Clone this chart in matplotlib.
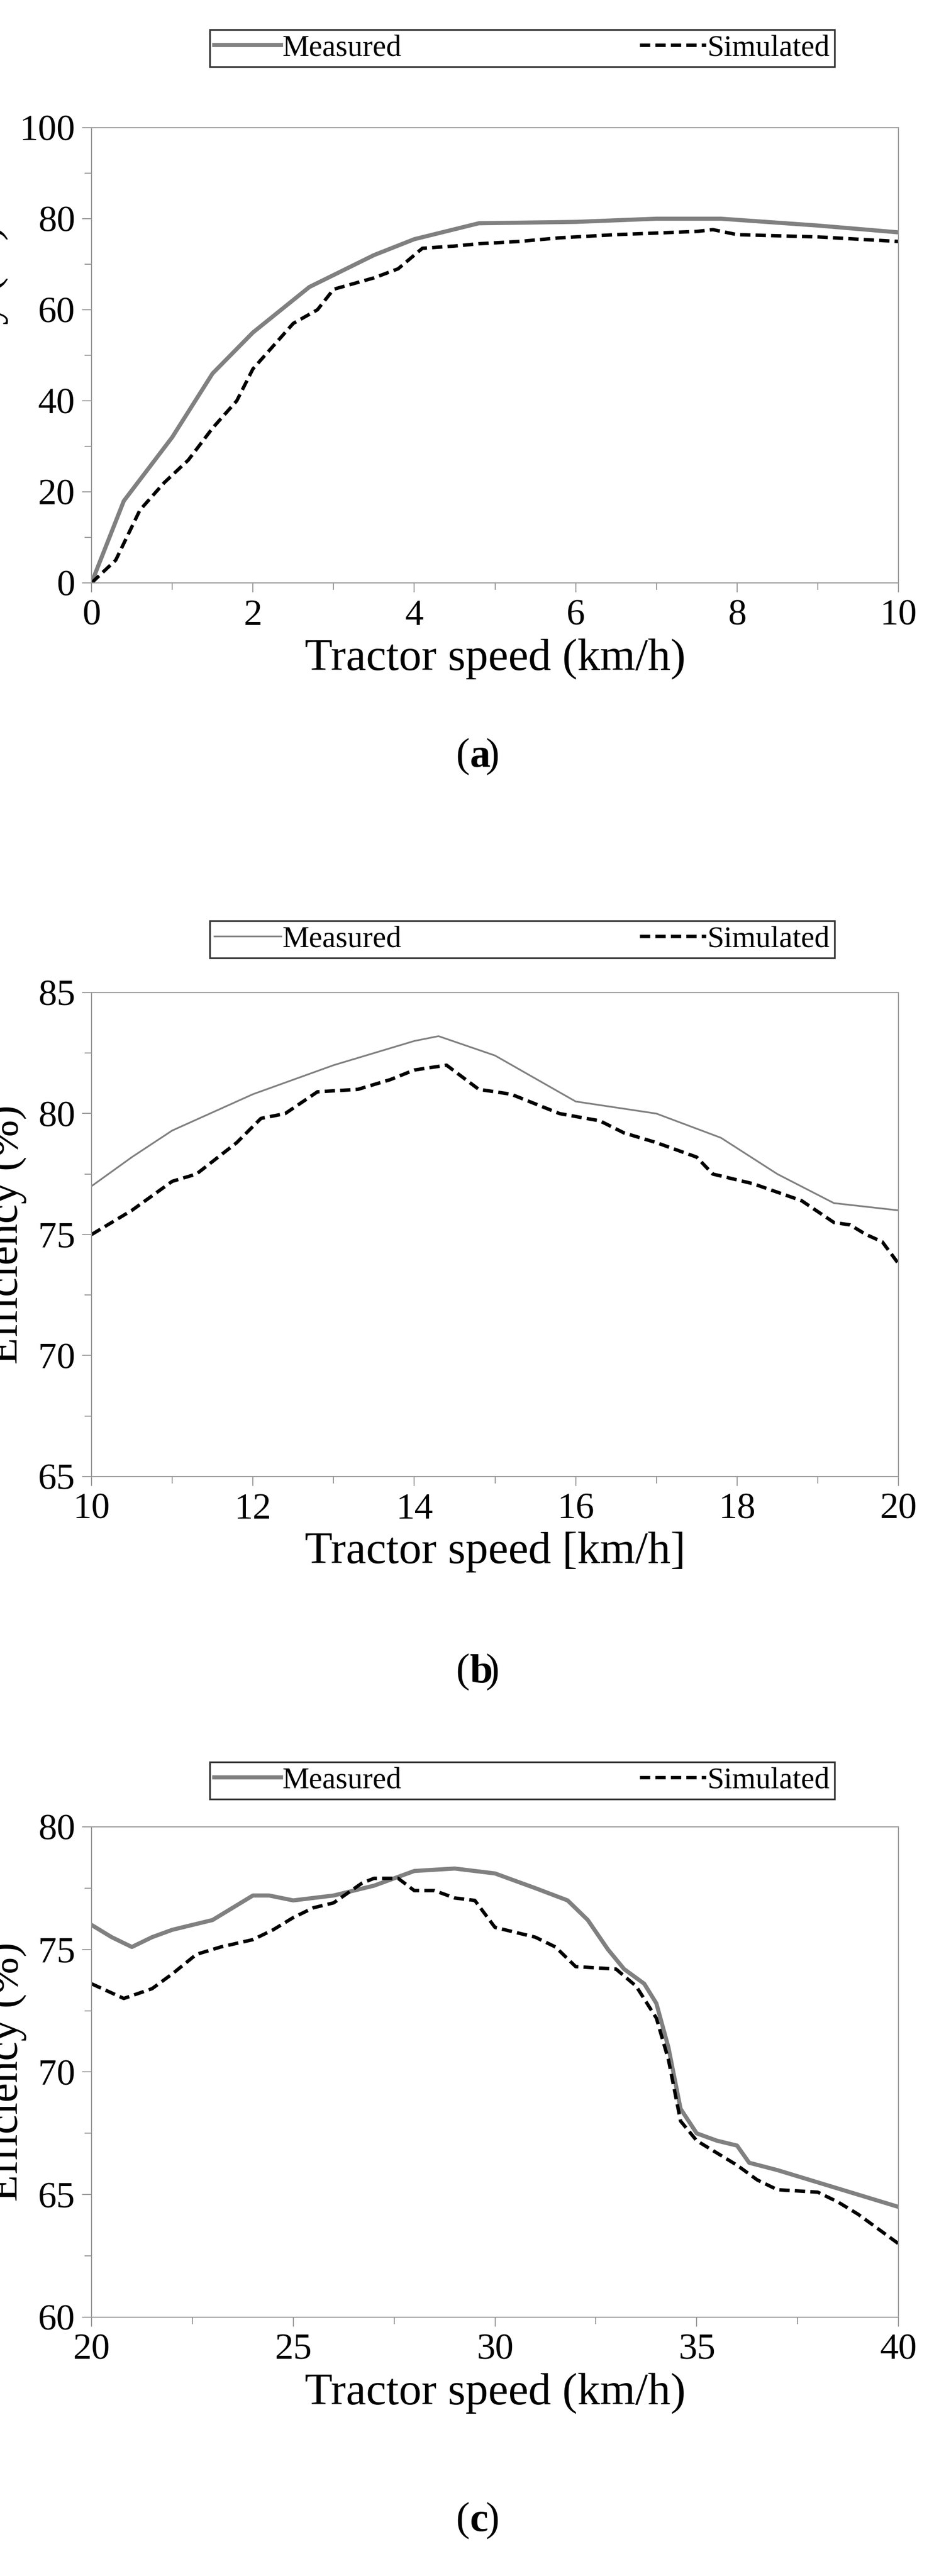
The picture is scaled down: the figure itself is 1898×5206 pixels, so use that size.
import matplotlib
matplotlib.use("Agg")
import matplotlib.pyplot as plt
from matplotlib.ticker import MultipleLocator, AutoMinorLocator

plt.rcParams['font.family'] = ['Liberation Serif', 'DejaVu Serif']

a_meas_x = [0, 0.4, 1, 1.5, 2, 2.7, 3.5, 4, 4.8, 6, 7, 7.8, 9, 10]
a_meas_y = [0, 18, 32, 46, 55, 65, 72, 75.5, 79, 79.3, 80, 80, 78.5, 77]
a_sim_x = [0, 0.3, 0.6, 0.9, 1.2, 1.5, 1.8, 2, 2.5, 2.8, 3, 3.5, 3.8, 4.1, 4.5, 4.8, 5.3, 5.8, 6.5, 7.5, 7.7, 8, 9, 10]
a_sim_y = [0, 5, 16, 22, 27, 34, 40, 47, 57, 60, 64.5, 67, 69, 73.5, 74, 74.5, 75, 75.8, 76.5, 77.2, 77.6, 76.5, 76, 75]

b_meas_x = [10, 10.5, 11, 12, 13, 14, 14.3, 15, 16, 17, 17.8, 18.5, 19.2, 20]
b_meas_y = [77, 78.2, 79.3, 80.8, 82, 83, 83.2, 82.4, 80.5, 80, 79, 77.5, 76.3, 76]
b_sim_x = [10, 10.5, 11, 11.3, 11.8, 12.1, 12.4, 12.8, 13.3, 13.7, 14, 14.4, 14.8, 15.2, 15.8, 16.3, 16.6, 17, 17.5, 17.7, 18.2, 18.8, 19.2, 19.4, 19.6, 19.8, 20]
b_sim_y = [75, 76, 77.2, 77.5, 78.8, 79.8, 80, 80.9, 81, 81.4, 81.8, 82, 81, 80.8, 80, 79.7, 79.2, 78.8, 78.2, 77.5, 77.1, 76.4, 75.5, 75.4, 75, 74.7, 73.8]

c_meas_x = [20, 20.5, 21, 21.5, 22, 23, 24, 24.4, 25, 26, 27, 28, 29, 30, 31, 31.8, 32.3, 32.8, 33.2, 33.7, 34, 34.3, 34.6, 35, 35.5, 36, 36.3, 37, 38, 39, 40]
c_meas_y = [76, 75.5, 75.1, 75.5, 75.8, 76.2, 77.2, 77.2, 77, 77.2, 77.6, 78.2, 78.3, 78.1, 77.5, 77, 76.2, 75, 74.2, 73.6, 72.8, 71, 68.5, 67.5, 67.2, 67, 66.3, 66, 65.5, 65, 64.5]
c_sim_x = [20, 20.8, 21.5, 22, 22.6, 23.2, 24, 24.5, 25, 25.5, 26, 26.7, 27, 27.6, 28, 28.5, 29, 29.5, 30, 30.5, 31, 31.5, 32, 33, 33.5, 34, 34.3, 34.6, 35, 35.5, 36, 36.5, 37, 38, 38.5, 39, 40]
c_sim_y = [73.6, 73, 73.4, 74, 74.8, 75.1, 75.4, 75.8, 76.3, 76.7, 76.9, 77.7, 77.9, 77.9, 77.4, 77.4, 77.1, 77, 75.9, 75.7, 75.5, 75.1, 74.3, 74.2, 73.5, 72.2, 70.5, 68, 67.2, 66.7, 66.2, 65.6, 65.2, 65.1, 64.7, 64.2, 63]

W, H = 1899, 5206
fig = plt.figure(figsize=(W/100, H/100), dpi=100)

def fr(x0, y0, x1, y1):
    return [x0/W, 1-y1/H, (x1-x0)/W, (y1-y0)/H]

panels = [
    dict(ax=(185, 258, 1816, 1178), leg=(424, 56, 1687, 139), lab=1530,
         xm=a_meas_x, ym=a_meas_y, xs=a_sim_x, ys=a_sim_y, xl=(0, 10), yl=(0, 100), xs_=2, ys_=20,
         xlabel='Tractor speed (km/h)', mlw=6, tag='a'),
    dict(ax=(185, 2006, 1816, 2984), leg=(424, 1857, 1687, 1940), lab=3380,
         xm=b_meas_x, ym=b_meas_y, xs=b_sim_x, ys=b_sim_y, xl=(10, 20), yl=(65, 85), xs_=2, ys_=5,
         xlabel='Tractor speed [km/h]', mlw=2.5, tag='b'),
    dict(ax=(185, 3692, 1816, 4683), leg=(424, 3557, 1687, 3640), lab=5095,
         xm=c_meas_x, ym=c_meas_y, xs=c_sim_x, ys=c_sim_y, xl=(20, 40), yl=(60, 80), xs_=5, ys_=5,
         xlabel='Tractor speed (km/h)', mlw=6, tag='c'),
]

for p in panels:
    ax = fig.add_axes(fr(*p['ax']))
    l1, = ax.plot(p['xm'], p['ym'], color='#808080', lw=p['mlw'], label='Measured')
    l2, = ax.plot(p['xs'], p['ys'], color='black', lw=5, ls=(0, (3, 1.5)), label='Simulated')
    ax.set_xlim(*p['xl']); ax.set_ylim(*p['yl'])
    ax.xaxis.set_major_locator(MultipleLocator(p['xs_']))
    ax.yaxis.set_major_locator(MultipleLocator(p['ys_']))
    ax.xaxis.set_minor_locator(AutoMinorLocator(2))
    ax.yaxis.set_minor_locator(AutoMinorLocator(2))
    for s in ax.spines.values():
        s.set_color('#999999'); s.set_linewidth(1.5)
    ax.tick_params(which='both', direction='out', color='#999999', width=1.5)
    ax.tick_params(which='major', length=14, labelsize=54, pad=10)
    ax.tick_params(which='minor', length=10)
    ax.set_xlabel(p['xlabel'], fontsize=66, labelpad=8)
    ax.set_ylabel('Efficiency (%)', fontsize=64, labelpad=16)
    lx0, ly0, lx1, ly1 = p['leg']
    leg = fig.legend(handles=[l1, l2], loc='center', ncol=2, mode='expand',
                     bbox_to_anchor=(lx0/W, 1-ly1/H, (lx1-lx0)/W, (ly1-ly0)/H),
                     fontsize=44, frameon=True, fancybox=False, edgecolor='black',
                     handlelength=2.2, handletextpad=0.05, columnspacing=4,
                     borderpad=0.15, borderaxespad=0)
    leg.get_frame().set_linewidth(2.5)
    for t in leg.get_texts():
        t.set_ha('left')
    fig.text(0.5, 1-p['lab']/H, '(', ha='right', va='center', fontsize=60)
    fig.text(0.5, 1-p['lab']/H, p['tag'], ha='left', va='center', fontsize=60, fontweight='bold')
    fig.text(0.5 + 0.017, 1-p['lab']/H, ')', ha='left', va='center', fontsize=60)

fig.savefig('out.png', dpi=100)
